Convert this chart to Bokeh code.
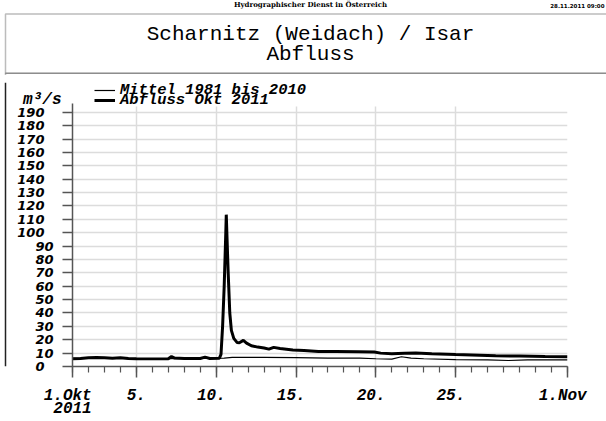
from bokeh.plotting import figure
from bokeh.layouts import column, row
from bokeh.models import (Range1d, FixedTicker, Legend, LegendItem, Label, BoxAnnotation,
                          Span, LinearAxis)
from bokeh.embed import file_html
from bokeh.resources import INLINE

# ---- data (day of October 2011, 32 = 1 Nov) ----
mittel_days = [1.0, 3.0, 5.0, 7.0, 9.0, 10.5, 11.0, 13.0, 15.0, 17.0, 19.0, 20.0,
               21.0, 21.6, 22.2, 23.0, 25.0, 27.0, 28.3, 29.5, 32.0]
mittel_vals = [6.0, 6.2, 5.8, 5.9, 6.0, 6.3, 6.8, 6.8, 6.6, 6.3, 6.2, 5.8,
               5.5, 7.3, 6.2, 5.8, 5.2, 5.0, 4.5, 5.0, 5.0]

abfluss_days = [1.0, 1.5, 2.0, 2.5, 3.0, 3.5, 4.0, 4.5, 5.0, 6.0, 7.0, 7.2, 7.4, 8.0,
                9.0, 9.3, 9.6, 10.2, 10.3, 10.4, 10.5, 10.6, 10.63, 10.68, 10.75,
                10.85, 10.95, 11.1, 11.3, 11.45, 11.7, 11.9, 12.2, 12.6, 13.0, 13.3,
                13.6, 14.0, 14.8, 15.5, 16.4, 17.5, 18.9, 19.9, 20.3, 21.0, 21.8,
                22.5, 23.5, 25.0, 26.5, 27.5, 29.0, 30.6, 32.0]
abfluss_vals = [5.8, 6.0, 6.6, 6.8, 6.5, 6.2, 6.5, 6.0, 5.8, 5.7, 5.8, 7.5, 6.3, 5.9,
                6.0, 7.0, 6.0, 6.2, 9.0, 30.0, 60.0, 100.0, 113.5, 95.0, 70.0,
                40.0, 27.0, 21.0, 18.0, 17.8, 19.5, 17.5, 15.5, 14.5, 13.8, 13.0,
                14.3, 13.5, 12.4, 12.0, 11.3, 11.2, 11.0, 10.8, 10.0, 9.5, 9.9,
                10.0, 9.5, 8.9, 8.4, 8.0, 7.8, 7.5, 7.3]

series_names = ["Mittel 1981 bis 2010", "Abfluss Okt 2011"]
unit_label = "m³/s"
x_tick_days = [1, 5, 10, 15, 20, 25, 32]
x_tick_labels = ["1.Okt", "5.", "10.", "15.", "20.", "25.", "1.Nov"]
x_first_year = "2011"
x_minor_days = list(range(1, 33))
y_ticks = list(range(0, 200, 10))
y_axis_top = 196.7      # the axis line ends a little above the last tick
y_unit_pos = 199        # height at which the unit label sits

NB = "\u00a0"   # no-break space: nudges a centred label like in the original
FIG = "\u2007"  # figure space: keeps label widths like the original
x_labels_shown = {}
for d, l in zip(x_tick_days, x_tick_labels):
    if d == x_tick_days[0]:
        x_labels_shown[d] = f"{l}{NB}\n{x_first_year}"
    elif d == 5:
        x_labels_shown[d] = l
    else:
        x_labels_shown[d] = f"{l}{NB}"
y_tick_labels = {v: (f"{v}{FIG}" if (v >= 100 or v == 0) else str(v)) for v in y_ticks}

MONO = "Liberation Mono"
FRAME = "#222222"
AX = "#555555"
W_MITTEL = 1.2
W_ABFLUSS = 3

# ================= header strip =================
top = figure(width=606, height=75, x_range=Range1d(0, 606), y_range=Range1d(75, 0),
             x_axis_type=None, y_axis_type=None, min_border=0,
             output_backend="svg", toolbar_location=None)
top.outline_line_color = None
top.grid.visible = False

top.add_layout(BoxAnnotation(left=5, right=800, top=13.5, bottom=72.7,
                             fill_alpha=0, line_color=FRAME, line_width=1.5))
top.add_layout(BoxAnnotation(left=5, right=800, top=72.7, bottom=300,
                             fill_alpha=0, line_color=FRAME, line_width=1.5))

top.add_layout(Label(x=310, y=8, text="Hydrographischer Dienst in Österreich",
                     text_align="center", text_font="DejaVu Serif", text_font_style="bold",
                     text_font_size="7px", text_color="black"))
top.add_layout(Label(x=604, y=8, text="28.11.2011 09:00", text_align="right",
                     text_font="DejaVu Sans", text_font_style="bold",
                     text_font_size="5.5px", text_color="black"))
top.add_layout(Label(x=310, y=45.6, text="Scharnitz (Weidach) / Isar",
                     text_align="center", text_font=MONO, text_font_size="21px",
                     text_color="black"))
top.add_layout(Label(x=310, y=65.7, text="Abfluss", text_align="center",
                     text_font=MONO, text_font_size="21px", text_color="black"))

# ================= left border strip =================
left = figure(width=8, height=346, x_range=Range1d(0, 8), y_range=Range1d(0, 1),
              x_axis_type=None, y_axis_type=None, min_border=0,
              output_backend="svg", toolbar_location=None)
left.outline_line_color = None
left.grid.visible = False
left.add_layout(Span(location=5, dimension="height", line_color=FRAME, line_width=1.5))

# ================= main chart =================
p = figure(width=598, height=346, x_range=Range1d(1, 32), y_range=Range1d(0, 212.3),
           output_backend="svg", toolbar_location=None,
           min_border_left=64, min_border_right=39, min_border_top=7, min_border_bottom=52,
           background_fill_color="white", border_fill_color="white")
p.outline_line_color = None

xa = p.xaxis[0]
xa.ticker = FixedTicker(ticks=x_tick_days, minor_ticks=x_minor_days)
xa.major_label_overrides = x_labels_shown
xa.major_label_text_font = MONO
xa.major_label_text_font_style = "bold italic"
xa.major_label_text_font_size = "16px"
xa.major_label_text_line_height = 0.75
xa.major_label_text_color = "black"
xa.major_label_standoff = 9
xa.major_tick_in = 0
xa.major_tick_out = 11
xa.minor_tick_in = 0
xa.minor_tick_out = 6
xa.axis_line_color = AX
xa.axis_line_width = 1.5
xa.major_tick_line_color = AX
xa.major_tick_line_width = 1.5
xa.minor_tick_line_color = AX
xa.minor_tick_line_width = 1.2

ya = p.yaxis[0]
ya.ticker = FixedTicker(ticks=y_ticks, minor_ticks=[])
ya.bounds = (0, y_axis_top)
ya.major_label_overrides = y_tick_labels
ya.major_label_text_font = "DejaVu Sans"
ya.major_label_text_font_style = "bold italic"
ya.major_label_text_font_size = "13px"
ya.major_label_text_color = "black"
ya.major_label_standoff = 9
ya.major_tick_in = 0
ya.major_tick_out = 10
ya.minor_tick_line_color = None
ya.axis_line_color = AX
ya.axis_line_width = 1.5
ya.major_tick_line_color = AX
ya.major_tick_line_width = 1.5

# unit label: a second, line-less left axis carrying a single label
unit_axis = LinearAxis(ticker=FixedTicker(ticks=[y_unit_pos], minor_ticks=[]),
                       major_label_overrides={y_unit_pos: unit_label},
                       axis_line_color=None, major_tick_line_color=None,
                       minor_tick_line_color=None, major_tick_in=0, major_tick_out=0,
                       minor_tick_in=0, minor_tick_out=0,
                       major_label_standoff=-47,
                       major_label_text_font=MONO, major_label_text_font_style="bold italic",
                       major_label_text_font_size="16px", major_label_text_color="black")
p.add_layout(unit_axis, "left")

p.xgrid.ticker = FixedTicker(ticks=x_tick_days[1:])
p.ygrid.ticker = FixedTicker(ticks=y_ticks[1:])
for g in (p.xgrid[0], p.ygrid[0]):
    g.grid_line_color = "#dcdcdc"
    g.grid_line_width = 1.5
if "cross_bounds" in p.xgrid[0].properties():
    p.xgrid[0].cross_bounds = (0, 194)

r_m = p.line(mittel_days, mittel_vals, line_color="black", line_width=W_MITTEL)
r_a = p.line(abfluss_days, abfluss_vals, line_color="black", line_width=W_ABFLUSS)

def make_legend(label, rend, loc):
    return Legend(items=[LegendItem(label=label, renderers=[rend])], location=loc,
                  padding=0, margin=0, spacing=0, glyph_width=21, glyph_height=20,
                  label_standoff=5, label_height=20,
                  background_fill_alpha=0, border_line_alpha=0,
                  label_text_font=MONO, label_text_font_style="bold italic",
                  label_text_font_size="15.5px", label_text_color="black")

# location = bottom-left of each legend box, pixels from the frame's bottom-left
p.add_layout(make_legend(series_names[0], r_m, (22, 266)))
p.add_layout(make_legend(series_names[1], r_a, (22, 256)))

layout = column(top, row(left, p, spacing=0), spacing=0)
open("out.html", "w").write(file_html(layout, INLINE))
